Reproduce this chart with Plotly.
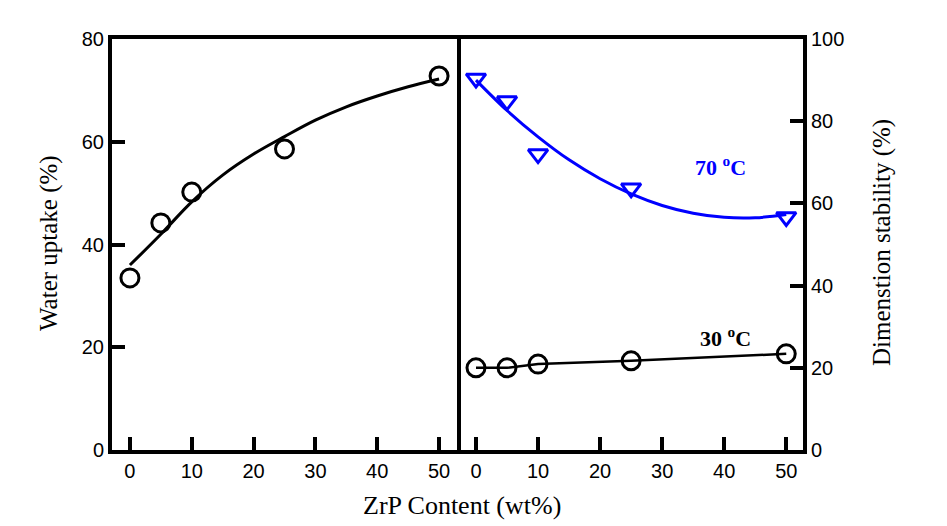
import plotly.graph_objects as go

# ---- data ----
zrp = [0, 5, 10, 25, 50]
water_uptake = [33.5, 44.2, 50.2, 58.6, 72.8]
fit_x = [0, 5, 10, 15, 20, 25, 30, 35, 40, 45, 50]
water_fit = [36.0, 42.0, 48.3, 53.5, 57.6, 61.0, 64.2, 66.8, 68.9, 70.7, 72.2]
dim_70 = [90.4, 84.9, 72.0, 63.7, 56.7]
dim_70_fit = [90.0, 82.6, 76.2, 70.6, 66.0, 62.3, 59.5, 57.6, 56.6, 56.5, 57.3]
dim_30 = [20.0, 20.0, 20.9, 21.7, 23.4]

x_ticks = [0, 10, 20, 30, 40, 50]
y1_ticks = [0, 20, 40, 60, 80]
y2_ticks = [0, 20, 40, 60, 80, 100]

BLUE = "#0000FF"
SERIF = "Liberation Serif, Times New Roman, serif"
SANS = "Liberation Sans, Arial, sans-serif"

# page body has an 8px default margin; plot area target (page px): x 112..803, y 39..450
OFF = 8
PL, PR, PT, PB = 112, 803, 39, 450
W, H = 947 - OFF, 526 - OFF
PW, PH = PR - PL, PB - PT

fig = go.Figure()
fig.add_trace(go.Scatter(x=fit_x, y=water_fit, mode="lines", line=dict(color="black", width=3, shape="spline"),
                         xaxis="x", yaxis="y", showlegend=False))
fig.add_trace(go.Scatter(x=zrp, y=water_uptake, mode="markers",
                         marker=dict(symbol="circle-open", size=18, color="black", line=dict(width=3, color="black")),
                         xaxis="x", yaxis="y", showlegend=False))
fig.add_trace(go.Scatter(x=fit_x, y=dim_70_fit, mode="lines", line=dict(color=BLUE, width=3, shape="spline"),
                         xaxis="x2", yaxis="y2", showlegend=False))
fig.add_trace(go.Scatter(x=zrp, y=dim_70, mode="markers",
                         marker=dict(symbol="triangle-down-open", size=17, color=BLUE, line=dict(width=3, color=BLUE)),
                         xaxis="x2", yaxis="y2", showlegend=False))
fig.add_trace(go.Scatter(x=zrp, y=dim_30, mode="lines+markers", line=dict(color="black", width=2.5),
                         marker=dict(symbol="circle-open", size=18, color="black", line=dict(width=3, color="black")),
                         xaxis="x2", yaxis="y2", showlegend=False))

split = (457 - PL) / PW
axis_common = dict(showgrid=False, zeroline=False, showline=True, linecolor="black", linewidth=4,
                   ticks="inside", ticklen=13, tickwidth=3.5, tickcolor="black",
                   tickfont=dict(family=SANS, size=20, color="black"))

fig.update_layout(
    width=W, height=H,
    margin=dict(l=PL - OFF, r=W - (PR - OFF), t=PT - OFF, b=H - (PB - OFF)),
    paper_bgcolor="white", plot_bgcolor="white",
    xaxis=dict(domain=[0, split], range=[-2.9, 52.9], tickvals=x_ticks, mirror=True, anchor="y", **axis_common),
    yaxis=dict(range=[0, 80], tickvals=y1_ticks, mirror=True, anchor="x", **axis_common),
    xaxis2=dict(domain=[split, 1], range=[-3.06, 52.7], tickvals=x_ticks, mirror=True, anchor="y2", **axis_common),
    yaxis2=dict(range=[0, 100], tickvals=y2_ticks, side="right", anchor="x2", **axis_common),
)

fig.add_annotation(x=39.4, y=69.1, xref="x2", yref="y2", text="<b>70 <sup>o</sup>C</b>", showarrow=False,
                   font=dict(family=SERIF, size=22, color=BLUE))
fig.add_annotation(x=40.2, y=27.5, xref="x2", yref="y2", text="<b>30 <sup>o</sup>C</b>", showarrow=False,
                   font=dict(family=SERIF, size=22, color="black"))

fig.add_annotation(x=(49 - PL) / PW, y=(PB - 243) / PH, xref="paper", yref="paper",
                   text="Water uptake (%)", textangle=-90, showarrow=False, xanchor="center", yanchor="middle",
                   font=dict(family=SERIF, size=25, color="black"))
fig.add_annotation(x=(882 - PL) / PW, y=(PB - 243) / PH, xref="paper", yref="paper",
                   text="Dimenstion stability (%)", textangle=-90, showarrow=False, xanchor="center", yanchor="middle",
                   font=dict(family=SERIF, size=25, color="black"))
fig.add_annotation(x=(462 - PL) / PW, y=-(505 - PB) / PH, xref="paper", yref="paper",
                   text="ZrP Content (wt%)", showarrow=False, xanchor="center", yanchor="middle",
                   font=dict(family=SERIF, size=26, color="black"))

fig.write_html("out.html")
